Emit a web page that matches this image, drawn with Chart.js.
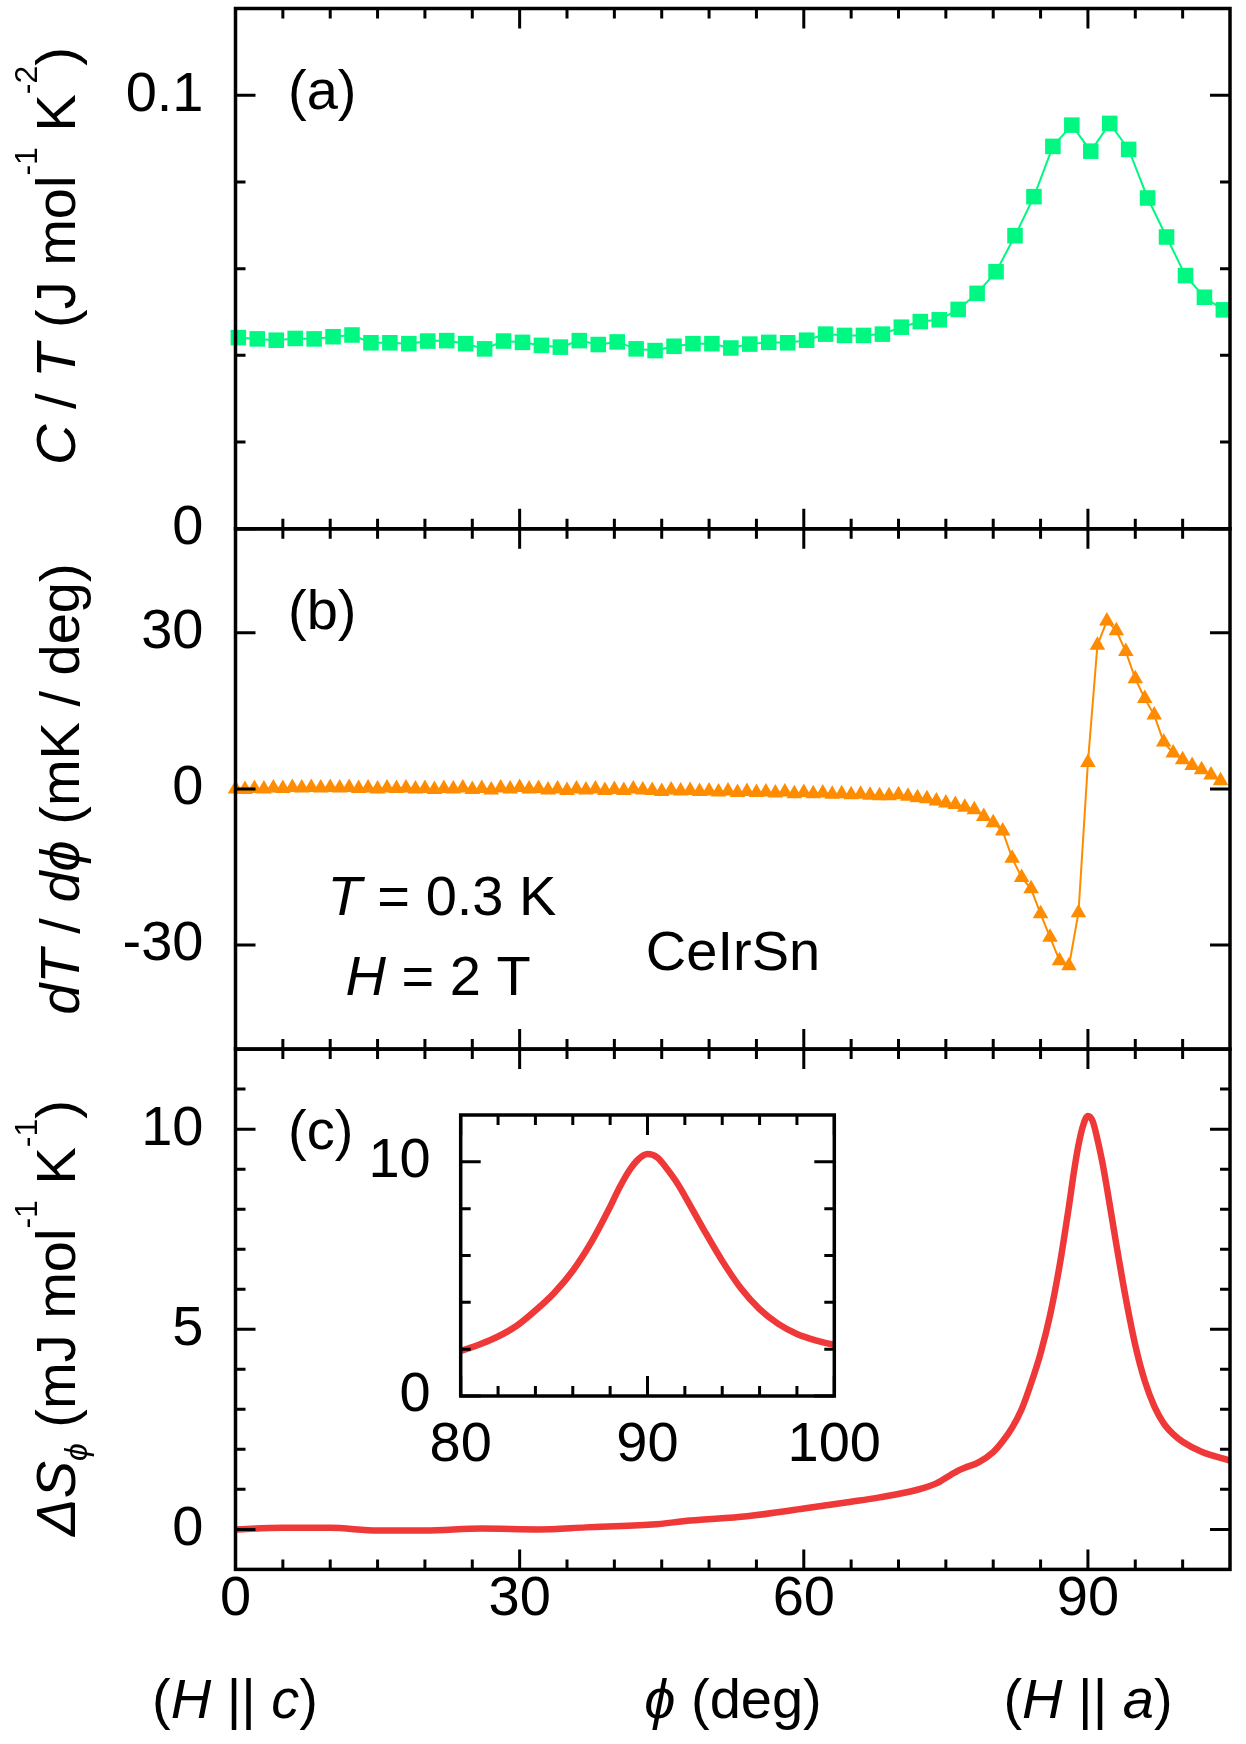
<!DOCTYPE html>
<html>
<head>
<meta charset="utf-8">
<script src="https://cdn.jsdelivr.net/npm/chart.js@4.4.1/dist/chart.umd.min.js"></script>
<style>
  html, body { margin: 0; background: #fff; }
  #wrap { position: relative; width: 1246px; height: 1744px; overflow: hidden; }
  #wrap canvas { position: absolute; left: 0; top: -100px; }
</style>
</head>
<body>
<div id="wrap">
  <canvas id="panelA" width="1246" height="1944"></canvas>
  <canvas id="panelB" width="1246" height="1944"></canvas>
  <canvas id="panelC" width="1246" height="1944"></canvas>
  <canvas id="inset" width="1246" height="1944"></canvas>
</div>
<script>
// (a) C/T, squares every 2 deg
const PHI_A = [0.3, 2.3, 4.3, 6.3, 8.3, 10.3, 12.3, 14.3, 16.3, 18.3, 20.3, 22.3, 24.3, 26.3,
  28.3, 30.3, 32.3, 34.3, 36.3, 38.3, 40.3, 42.3, 44.3, 46.3, 48.3, 50.3, 52.3, 54.3, 56.3,
  58.3, 60.3, 62.3, 64.3, 66.3, 68.3, 70.3, 72.3, 74.3, 76.3, 78.3, 80.3, 82.3, 84.3, 86.3,
  88.3, 90.3, 92.3, 94.3, 96.3, 98.3, 100.3, 102.3, 104.3];
const C_OVER_T = [0.0441, 0.0438, 0.0435, 0.0439, 0.0438, 0.0443, 0.0447, 0.0429, 0.0429, 0.0427,
  0.0433, 0.0434, 0.0427, 0.0415, 0.0433, 0.0430, 0.0423, 0.0419, 0.0434, 0.0425,
  0.0431, 0.0415, 0.0411, 0.0421, 0.0427, 0.0427, 0.0417, 0.0426, 0.0430, 0.0429,
  0.0435, 0.0449, 0.0446, 0.0446, 0.0449, 0.0465, 0.0478, 0.0482, 0.0506, 0.0543,
  0.0593, 0.0676, 0.0766, 0.0882, 0.0931, 0.0871, 0.0935, 0.0875, 0.0763, 0.0673,
  0.0584, 0.0534, 0.0505];

// (b) dT/dphi, triangles every 1 deg
const PHI_B = [0, 1, 2, 3, 4, 5, 6, 7, 8, 9, 10, 11, 12, 13, 14, 15, 16, 17, 18, 19, 20,
  21, 22, 23, 24, 25, 26, 27, 28, 29, 30, 31, 32, 33, 34, 35, 36, 37, 38, 39, 40,
  41, 42, 43, 44, 45, 46, 47, 48, 49, 50, 51, 52, 53, 54, 55, 56, 57, 58, 59, 60,
  61, 62, 63, 64, 65, 66, 67, 68, 69, 70, 71, 72, 73, 74, 75, 76, 77, 78, 79, 80,
  81, 82, 83, 84, 85, 86, 87, 88, 89, 90, 91, 92, 93, 94, 95, 96, 97, 98, 99, 100,
  101, 102, 103, 104];
const DT_DPHI = [0.0, -0.1, 0.1, 0.0, 0.2, 0.1, 0.3, 0.2, 0.3, 0.2,
  0.3, 0.2, 0.3, 0.1, 0.2, 0.0, 0.2, 0.1, 0.2, 0.0,
  0.1, -0.1, 0.1, 0.0, 0.2, -0.1, 0.1, -0.2, 0.2, 0.0,
  0.3, 0.0, 0.1, -0.2, 0.0, -0.3, 0.0, -0.2, 0.0, -0.3,
  -0.1, -0.3, 0.0, -0.2, -0.3, -0.5, -0.2, -0.4, -0.3, -0.5,
  -0.4, -0.6, -0.4, -0.7, -0.5, -0.7, -0.6, -0.8, -0.6, -0.9,
  -0.7, -0.9, -0.8, -1.0, -0.9, -1.1, -1.0, -1.2,
  -1.3, -1.3, -1.1, -1.4, -1.7, -1.9, -2.3, -2.7, -3.0, -3.5,
  -4.0, -5.3, -6.5, -8.1, -13.3, -17.0, -19.2, -24.0, -28.5, -33.0,
  -34.0, -23.8, 5.1, 27.6, 32.3, 30.4, 26.4, 21.2, 17.4, 14.2,
  9.0, 6.9, 5.6, 4.5, 3.7, 2.7, 1.6];

// (c) entropy change, continuous curve (also used by the inset)
const PHI_C = [0, 5, 10, 15, 20, 26, 32, 37, 44, 48, 54, 60, 65, 68, 72, 74, 75.5, 76.3, 77,
  78.5, 80, 81, 82, 83, 84, 85, 86, 87, 88, 88.5, 89, 89.5, 90, 90.5, 91, 91.5, 92, 93,
  94, 95, 96, 97, 98, 99, 100, 102, 105];
const DELTA_S = [0.0, 0.04, 0.04, -0.03, -0.03, 0.02, 0.0, 0.05, 0.12, 0.22, 0.33, 0.52, 0.69,
  0.80, 0.99, 1.15, 1.36, 1.47, 1.54, 1.68, 1.93, 2.2, 2.54, 3.0, 3.65, 4.4, 5.35, 6.58,
  8.08, 8.9, 9.6, 10.1, 10.33, 10.2, 9.75, 9.2, 8.54, 7.12, 5.77, 4.6, 3.71, 3.08, 2.65,
  2.38, 2.19, 1.94, 1.72];

// ticks
const X_MAJOR = [0, 30, 60, 90];
const X_MINOR = [5, 10, 15, 20, 25, 35, 40, 45, 50, 55, 65, 70, 75, 80, 85, 95, 100];
const X_LABELS = ['0', '30', '60', '90'];
const A_MAJOR = [0, 0.1], A_MINOR = [0.02, 0.04, 0.06, 0.08], A_LABELS = ['0', '0.1'];
const B_MAJOR = [-30, 0, 30], B_LABELS = ['-30', '0', '30'];
const C_MAJOR = [0, 5, 10], C_MINOR = [1, 2, 3, 4, 6, 7, 8, 9, 11], C_LABELS = ['0', '5', '10'];
const IN_X_MAJOR = [80, 90, 100], IN_X_MINOR = [82, 84, 86, 88, 92, 94, 96, 98], IN_X_LABELS = ['80', '90', '100'];
const IN_Y_MAJOR = [0, 10], IN_Y_MINOR = [2, 4, 6, 8], IN_Y_LABELS = ['0', '10'];

// layout (px, page coordinates; canvases are shifted up by OFF so labels never hit an edge)
const W = 1246, H = 1744, OFF = 100, CH = H + 2 * OFF;
const LEFT = 235.5, RIGHT = 1230;
const PANEL_H = 520.3;
const TOP_A = 8.5, TOP_B = TOP_A + PANEL_H, TOP_C = TOP_B + PANEL_H;
const X_AXIS_H = 100;
const FAMILY = '"Liberation Sans", Arial, Helvetica, sans-serif';
const FS = 56;
const MAJOR_LEN = 20, MINOR_LEN = 10, TICK_W = 3, BORDER_W = 3.5;

function setFont(ctx, size, italic) {
  ctx.font = (italic ? 'italic ' : '') + size + 'px ' + FAMILY;
}

// runs: [text, style]  style: 'i' italic, '^' superscript, '_' italic subscript
function rich(ctx, runs, x, y, align, rotate) {
  ctx.save();
  ctx.translate(x, y);
  if (rotate) ctx.rotate(-Math.PI / 2);
  ctx.fillStyle = '#000';
  ctx.textBaseline = 'alphabetic';
  ctx.textAlign = 'left';
  const parts = runs.map(([t, s = '']) => {
    const small = s === '^' || s === '_';
    const size = small ? 32 : FS;
    const italic = s === 'i' || s === '_';
    setFont(ctx, size, italic);
    return { t, size, italic, dy: s === '^' ? -38 : (s === '_' ? 12 : 0), w: ctx.measureText(t).width };
  });
  const total = parts.reduce((a, p) => a + p.w, 0);
  let cx = align === 'center' ? -total / 2 : (align === 'right' ? -total : 0);
  parts.forEach(p => {
    setFont(ctx, p.size, p.italic);
    ctx.fillText(p.t, cx, p.dy);
    cx += p.w;
  });
  ctx.restore();
}

// border + inward ticks on all four sides
function frame(xMajor, xMinor, yMajor, yMinor) {
  return {
    id: 'frame',
    afterDatasetsDraw(chart) {
      const { ctx, chartArea: a, scales: { x, y } } = chart;
      ctx.save();
      ctx.strokeStyle = '#000';
      ctx.lineWidth = TICK_W;
      ctx.beginPath();
      const xt = (v, len) => {
        const p = x.getPixelForValue(v);
        ctx.moveTo(p, a.bottom); ctx.lineTo(p, a.bottom - len);
        ctx.moveTo(p, a.top); ctx.lineTo(p, a.top + len);
      };
      const yt = (v, len) => {
        const p = y.getPixelForValue(v);
        ctx.moveTo(a.left, p); ctx.lineTo(a.left + len, p);
        ctx.moveTo(a.right, p); ctx.lineTo(a.right - len, p);
      };
      xMajor.forEach(v => xt(v, MAJOR_LEN));
      xMinor.forEach(v => xt(v, MINOR_LEN));
      yMajor.forEach(v => yt(v, MAJOR_LEN));
      yMinor.forEach(v => yt(v, MINOR_LEN));
      ctx.stroke();
      ctx.lineWidth = BORDER_W;
      ctx.strokeRect(a.left, a.top, a.right - a.left, a.bottom - a.top);
      ctx.restore();
    }
  };
}

// free text in page coordinates
function texts(drawFn) {
  return {
    id: 'texts',
    afterDraw(chart) {
      const ctx = chart.ctx;
      ctx.save();
      ctx.translate(0, OFF);
      drawFn(ctx);
      ctx.restore();
    }
  };
}

const tickFont = { family: FAMILY, size: FS, lineHeight: 1 };

// fixed range + explicit major ticks for a linear axis
function axis(min, max, major, labels, extra) {
  return Object.assign({
    type: 'linear', min, max,
    grid: { display: false, drawTicks: false }, border: { display: false },
    afterBuildTicks: s => { s.ticks = major.map(v => ({ value: v })); s.min = min; s.max = max; },
    ticks: { callback: (v, i) => labels[i], font: tickFont, color: '#000', maxRotation: 0, autoSkip: false }
  }, extra);
}

function panel(id, top, yMin, yMax, yMajor, yMinor, yLabels, dataset, showX, drawFn) {
  const xScale = axis(0, 105, X_MAJOR, X_LABELS, { display: showX });
  xScale.ticks.padding = 2;
  if (showX) xScale.afterFit = s => { s.height = X_AXIS_H; };
  const yScale = axis(yMin, yMax, yMajor, yLabels, { afterFit: s => { s.width = LEFT; } });
  yScale.ticks.padding = 32;
  const padTop = OFF + top;
  return new Chart(document.getElementById(id), {
    type: 'line',
    data: { datasets: [dataset] },
    options: {
      responsive: false, animation: false, devicePixelRatio: 1, events: [],
      layout: { padding: { left: 0, right: W - RIGHT, top: padTop, bottom: CH - padTop - PANEL_H - (showX ? X_AXIS_H : 0) } },
      plugins: { legend: { display: false }, tooltip: { enabled: false } },
      scales: { x: xScale, y: yScale }
    },
    plugins: [frame(X_MAJOR, X_MINOR, yMajor, yMinor), texts(drawFn)]
  });
}

const GREEN = '#00f882', ORANGE = '#ff8c00', RED = '#ef3838';

panel('panelA', TOP_A, 0, 0.12, A_MAJOR, A_MINOR, A_LABELS, {
  data: PHI_A.map((x, i) => ({ x, y: C_OVER_T[i] })),
  borderColor: GREEN, backgroundColor: GREEN, borderWidth: 2,
  pointStyle: 'rect', pointRadius: 11, pointBorderWidth: 0, tension: 0, clip: false
}, false, ctx => {
  rich(ctx, [['C', 'i'], [' / '], ['T', 'i'], [' (J mol'], ['-1', '^'], [' K'], ['-2', '^'], [')']], 75, 256, 'center', true);
  rich(ctx, [['(a)']], 288, TOP_A + 100, 'left');
});

panel('panelB', TOP_B, -50, 50, B_MAJOR, [], B_LABELS, {
  data: PHI_B.map((x, i) => ({ x, y: DT_DPHI[i] })),
  borderColor: ORANGE, backgroundColor: ORANGE, borderWidth: 2,
  pointStyle: 'triangle', pointRadius: 9, pointBorderWidth: 0, tension: 0, clip: false
}, false, ctx => {
  rich(ctx, [['dT', 'i'], [' / '], ['d', 'i'], ['\u03d5', 'i'], [' (mK / deg)']], 79, 789, 'center', true);
  rich(ctx, [['(b)']], 288, TOP_B + 100, 'left');
  rich(ctx, [['T', 'i'], [' = 0.3 K']], 442, 915, 'center');
  rich(ctx, [['H', 'i'], [' = 2 T']], 438, 995, 'center');
  rich(ctx, [['CeIrSn']], 733, 970, 'center');
});

panel('panelC', TOP_C, -1, 12, C_MAJOR, C_MINOR, C_LABELS, {
  data: PHI_C.map((x, i) => ({ x, y: DELTA_S[i] })),
  borderColor: RED, borderWidth: 6.5, pointRadius: 0,
  cubicInterpolationMode: 'monotone', borderJoinStyle: 'round', borderCapStyle: 'round'
}, true, ctx => {
  rich(ctx, [['\u0394S', 'i'], ['\u03d5', '_'], [' (mJ mol'], ['-1', '^'], [' K'], ['-1', '^'], [')']], 75, 1318, 'center', true);
  rich(ctx, [['(c)']], 288, TOP_C + 100, 'left');
  rich(ctx, [['('], ['H', 'i'], [' || '], ['c', 'i'], [')']], 235, 1718, 'center');
  rich(ctx, [['\u03d5', 'i'], [' (deg)']], 733, 1718, 'center');
  rich(ctx, [['('], ['H', 'i'], [' || '], ['a', 'i'], [')']], 1088, 1718, 'center');
});

// inset
const IN_L = 460.7, IN_R = 834.3, IN_T = 1115, IN_B = 1396, IN_YW = 140;
const inX = axis(80, 100, IN_X_MAJOR, IN_X_LABELS, { afterFit: s => { s.height = X_AXIS_H; } });
inX.ticks.padding = 22;
const inY = axis(0, 12, IN_Y_MAJOR, IN_Y_LABELS, { afterFit: s => { s.width = IN_YW; } });
inY.ticks.padding = 30;
new Chart(document.getElementById('inset'), {
  type: 'line',
  data: { datasets: [{
    data: PHI_C.map((x, i) => ({ x, y: DELTA_S[i] })),
    borderColor: RED, borderWidth: 6.5, pointRadius: 0,
    cubicInterpolationMode: 'monotone', borderJoinStyle: 'round'
  }] },
  options: {
    responsive: false, animation: false, devicePixelRatio: 1, events: [],
    layout: { padding: { left: IN_L - IN_YW, right: W - IN_R, top: OFF + IN_T, bottom: CH - OFF - IN_B - X_AXIS_H } },
    plugins: { legend: { display: false }, tooltip: { enabled: false } },
    scales: { x: inX, y: inY }
  },
  plugins: [frame(IN_X_MAJOR, IN_X_MINOR, IN_Y_MAJOR, IN_Y_MINOR)]
});
</script>
</body>
</html>
